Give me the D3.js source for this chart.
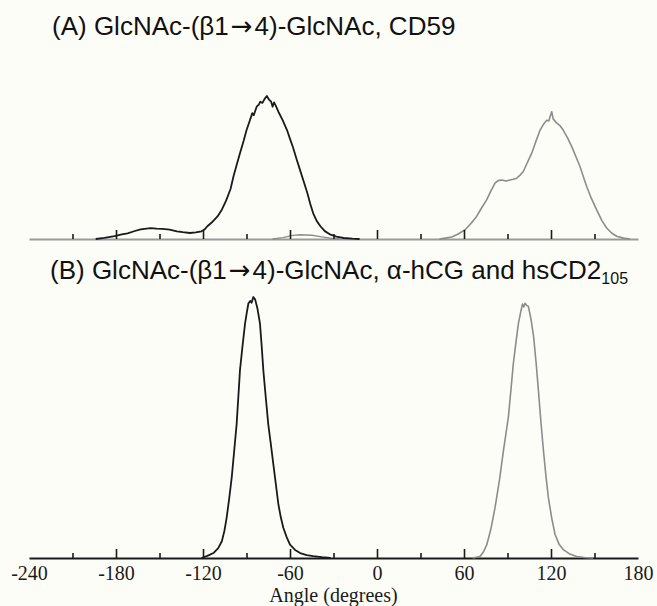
<!DOCTYPE html>
<html>
<head>
<meta charset="utf-8">
<script src="https://cdn.jsdelivr.net/npm/d3@7"></script>
<style>
  html, body { margin: 0; padding: 0; background: #fdfdf8; }
  svg { display: block; }
</style>
</head>
<body>
<div id="chart"></div>
<script>
// angle labels and tick marks (degrees)
const labelAngles = [-240, -180, -120, -60, 0, 60, 120, 180];
const majorTicks = [-180, -120, -60, 0, 60, 120];
const minorTicks = [-210, -150, -90, -30, 30, 90, 150];

// panel A: CD59, relative population (% of tallest peak)
const cd59Black = [
  [-194, 0], [-188, 0.8], [-181, 2], [-176, 3.2], [-172, 4], [-167, 5.6], [-163, 6.8],
  [-159, 7.3], [-156, 7.6], [-152, 7.2], [-148, 7.1], [-143, 6.5], [-138, 5.4],
  [-134, 4.8], [-129, 4.2], [-125, 4.6], [-121, 5.4], [-119, 6.6], [-117, 8.9],
  [-114, 11.5], [-110, 15.8], [-107, 20.5], [-104, 27], [-101, 35], [-99, 43.7],
  [-97, 51], [-94.5, 60], [-92, 68.5], [-90, 76], [-88, 82], [-86, 88], [-85, 86.5],
  [-83, 92.5], [-81.5, 94], [-80.5, 96], [-79, 95.2], [-77.5, 98], [-76, 100],
  [-74.5, 97.5], [-73, 96], [-72, 92.5], [-71, 95.5], [-70, 93.6], [-68, 89],
  [-65, 83], [-62, 76], [-60, 70], [-58, 64.3], [-55.5, 56], [-53, 48], [-50.5, 40],
  [-48, 32], [-46, 24.5], [-44, 18], [-41.5, 12.5], [-39, 8.9], [-36, 5.5],
  [-32, 3], [-28, 1.6], [-23, 0.7], [-17, 0.2], [-12, 0]
];
const cd59GreyMinor = [
  [-72, 0], [-65, 1], [-58, 2.5], [-53, 3], [-45, 2.6], [-38, 1.5], [-30, 0.3], [-25, 0]
];
const cd59Grey = [
  [43, 0], [47, 0.6], [51.5, 1.4], [56, 3.5], [60.7, 6.5], [64.5, 10.5], [68.7, 15.8],
  [72, 21.5], [75.6, 27.4], [78.5, 33.5], [81.4, 39], [83.5, 40.8], [86, 41.3],
  [89, 40.5], [91.7, 41.3], [94, 41.8], [96.3, 42.5], [98.5, 44.5], [100.9, 47.2],
  [103.5, 53], [106.7, 60], [109.5, 68], [112.4, 76], [115, 80.5], [117, 83],
  [118.5, 82.5], [119.5, 86], [120.5, 89], [121.5, 84], [124, 81], [126, 79.5],
  [128.5, 76], [131.5, 70.5], [134.3, 64.6], [137, 58], [140, 50.7], [142.5, 43],
  [144.6, 36.7], [148, 28], [151.5, 20.4], [155, 13], [158.4, 7.7], [162, 4],
  [165.3, 1.9], [170, 0.6], [174.5, 0]
];

// panel B: alpha-hCG and hsCD2(105), relative population (% of tallest peak)
const hcgBlack = [
  [-121, 0], [-117, 0.8], [-112.8, 1.9], [-109.5, 3.8], [-107, 6.4], [-105.2, 10.5],
  [-103.7, 15.4], [-102, 22.5], [-100.2, 30.8], [-98.5, 41], [-96.8, 51.3],
  [-95.6, 62], [-94.5, 72], [-92.7, 81.5], [-91, 89.8], [-89.8, 94], [-88.7, 97.5],
  [-87.5, 98.5], [-86.5, 97.8], [-85.3, 100], [-84, 99], [-82.5, 95.7],
  [-80.7, 89.8], [-79.5, 81], [-78.4, 72], [-76.7, 61.5], [-75, 51.3],
  [-73.2, 43.5], [-71.5, 36], [-69.7, 28], [-68, 20.5], [-66.3, 15.5],
  [-64.6, 11.6], [-62.3, 8], [-60, 5.1], [-56.5, 3.1], [-53, 1.9], [-48.5, 1.1],
  [-44, 0.7], [-38, 0.3], [-32, 0]
];
const hcgGrey = [
  [66, 0], [71, 0.6], [73.5, 2.4], [75.7, 5.1], [78.5, 11], [81.4, 19.3],
  [84.5, 30], [87.2, 41.1], [90.6, 54], [92.3, 64], [94, 74.4], [95.8, 82.5],
  [97.5, 89.8], [99.2, 94.5], [100.3, 97.3], [101.2, 96.2], [102.1, 97.6],
  [103.2, 96.8], [104.4, 96.4], [106.2, 91.5], [108, 84.8], [109.7, 75],
  [111.3, 64.3], [113, 52.5], [114.8, 41.1], [116.5, 31.5], [118.2, 23.1],
  [120.5, 15.3], [122.8, 9], [125.5, 5.4], [128.5, 3.2], [133, 1.5],
  [137.7, 0.6], [143, 0.2], [149, 0]
];

const W = 657, H = 606;
const x = d3.scaleLinear().domain([-240, 180]).range([29, 638]);

const panels = [
  {
    baseY: 239, top: 96, axisColor: "#9a9a9a", labels: false,
    titleY: 35,
    series: [
      { data: cd59Black, color: "#1a1a1a", width: 1.8 },
      { data: cd59GreyMinor, color: "#8c8c8c", width: 1.4 },
      { data: cd59Grey, color: "#8c8c8c", width: 1.6 }
    ]
  },
  {
    baseY: 558, top: 297, axisColor: "#1a1a1a", labels: true,
    titleY: 279,
    series: [
      { data: hcgBlack, color: "#1a1a1a", width: 1.8 },
      { data: hcgGrey, color: "#8c8c8c", width: 1.6 }
    ]
  }
];

const svg = d3.select("#chart")
  .append("svg")
  .attr("width", W)
  .attr("height", H)
  .attr("viewBox", [0, 0, W, H]);

svg.append("rect")
  .attr("width", W)
  .attr("height", H)
  .attr("fill", "#fdfdf8");

const titleFont = "'Liberation Sans', Arial, Helvetica, sans-serif";
const arrowFont = "'DejaVu Sans', sans-serif";
const axisFont = "'Liberation Serif', 'Times New Roman', Times, serif";

// title pieces, each a tspan
function addTitle(xPos, yPos, pieces) {
  const t = svg.append("text")
    .attr("x", xPos)
    .attr("y", yPos)
    .attr("font-family", titleFont)
    .attr("font-size", 26)
    .attr("fill", "#111");
  pieces.forEach(pc => {
    const sp = t.append("tspan").text(pc.text);
    if (pc.font) sp.attr("font-family", pc.font);
    if (pc.size) sp.attr("font-size", pc.size);
    if (pc.dx != null) sp.attr("dx", pc.dx);
    if (pc.dy != null) sp.attr("dy", pc.dy);
  });
  return t;
}

addTitle(52, panels[0].titleY, [
  { text: "(A) GlcNAc-(\u03B21" },
  { text: "\u2192", font: arrowFont, dx: 2 },
  { text: "4)-GlcNAc, CD59", dx: 2 }
]);

addTitle(50, panels[1].titleY, [
  { text: "(B) GlcNAc-(\u03B21" },
  { text: "\u2192", font: arrowFont, dx: 2 },
  { text: "4)-GlcNAc, \u03B1-hCG and hsCD2", dx: 2 },
  { text: "105", size: 16, dy: 5 }
]);

panels.forEach(p => {
  const y = d3.scaleLinear().domain([0, 100]).range([p.baseY, p.top]);
  const g = svg.append("g");

  // axis baseline
  g.append("g")
    .attr("transform", `translate(0,${p.baseY})`)
    .call(d3.axisBottom(x).tickValues([]).tickSizeOuter(0))
    .call(a => a.select(".domain")
      .attr("stroke", p.axisColor)
      .attr("stroke-width", 2));

  const line = d3.line()
    .x(d => x(d[0]))
    .y(d => y(d[1]));

  p.series.forEach(s => {
    g.append("path")
      .datum(s.data)
      .attr("fill", "none")
      .attr("stroke", s.color)
      .attr("stroke-width", s.width)
      .attr("stroke-linejoin", "round")
      .attr("d", line);
  });

  // tick marks pointing up
  const major = g.append("g")
    .attr("transform", `translate(0,${p.baseY})`)
    .call(d3.axisBottom(x).tickValues(majorTicks).tickFormat("").tickSizeInner(-9).tickSizeOuter(0));
  const minor = g.append("g")
    .attr("transform", `translate(0,${p.baseY})`)
    .call(d3.axisBottom(x).tickValues(minorTicks).tickFormat("").tickSizeInner(-5).tickSizeOuter(0));
  [major, minor].forEach(a => {
    a.select(".domain").remove();
    a.selectAll(".tick line").attr("stroke", "#1a1a1a").attr("stroke-width", 1.6);
  });

  if (p.labels) {
    const lab = g.append("g")
      .attr("transform", `translate(0,${p.baseY})`)
      .call(d3.axisBottom(x).tickValues(labelAngles).tickFormat(d => String(d)).tickSize(0).tickPadding(22));
    lab.select(".domain").remove();
    lab.selectAll(".tick text")
      .attr("font-family", axisFont)
      .attr("font-size", 20)
      .attr("fill", "#1a1a1a")
      .attr("dy", 0);

    g.append("text")
      .attr("x", (x.range()[0] + x.range()[1]) / 2)
      .attr("y", 602)
      .attr("text-anchor", "middle")
      .attr("font-family", axisFont)
      .attr("font-size", 20)
      .attr("fill", "#1a1a1a")
      .text("Angle (degrees)");
  }
});
</script>
</body>
</html>
